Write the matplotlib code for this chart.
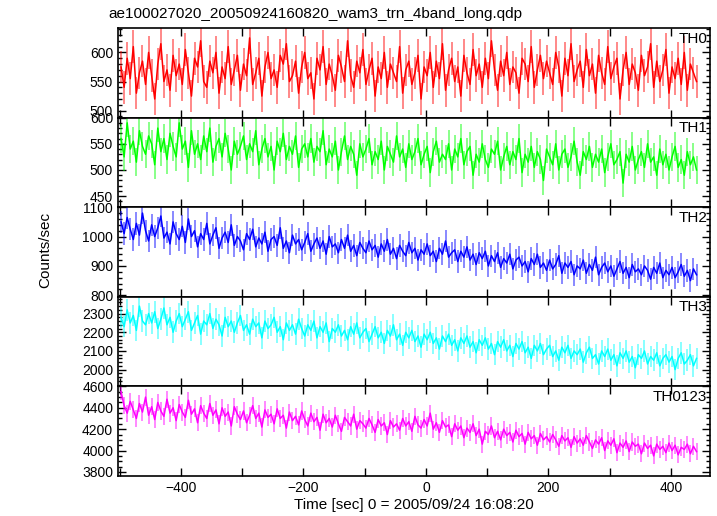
import numpy as np
import matplotlib
matplotlib.use("Agg")
import matplotlib.pyplot as plt
from matplotlib.ticker import MultipleLocator

plt.rcParams['font.family'] = ['Liberation Sans', 'DejaVu Sans']

t_start = -498
t_step = 5

th0 = [575, 540, 590, 555, 610, 530, 565, 585, 545, 600,
       560, 520, 580, 615, 550, 570, 535, 595, 560, 580,
       545, 605, 565, 525, 590, 575, 620, 550, 540, 585,
       565, 600, 530, 575, 555, 610, 545, 570, 595, 535,
       580, 560, 625, 545, 565, 590, 525, 575, 600, 555,
       570, 540, 595, 580, 615, 550, 560, 585, 530, 575,
       600, 555, 565, 520, 590, 570, 610, 545, 580, 560,
       535, 595, 575, 550, 620, 560, 540, 585, 565, 605,
       545, 570, 590, 525, 575, 555, 600, 540, 580, 565,
       550, 610, 530, 570, 585, 545, 565, 595, 520, 575,
       560, 600, 540, 585, 555, 615, 535, 570, 590, 550,
       575, 525, 595, 565, 545, 605, 560, 580, 540, 590,
       555, 620, 570, 535, 585, 560, 600, 545, 575, 565,
       530, 590, 580, 550, 610, 540, 570, 595, 555, 585,
       565, 545, 600, 575, 525, 590, 560, 615, 550, 570,
       585, 540, 605, 560, 580, 530, 595, 565, 545, 610,
       555, 575, 590, 520, 570, 600, 545, 580, 565, 535,
       595, 560, 575, 615, 540, 585, 550, 570, 605, 530,
       575, 555, 590, 545, 600, 535, 580, 565, 550]

th1 = [560, 525, 590, 540, 555, 515, 575, 545, 530, 565,
       550, 510, 580, 535, 560, 520, 570, 545, 525, 590,
       540, 555, 505, 575, 530, 550, 520, 565, 535, 580,
       515, 545, 560, 525, 570, 540, 500, 555, 530, 545,
       565, 520, 550, 535, 575, 510, 540, 560, 525, 545,
       500, 555, 535, 570, 520, 545, 530, 565, 505, 540,
       550, 525, 560, 515, 545, 535, 575, 510, 540, 525,
       555, 500, 535, 565, 520, 545, 530, 490, 550, 525,
       540, 560, 510, 535, 520, 555, 500, 545, 530, 515,
       565, 525, 540, 505, 550, 520, 535, 560, 510, 530,
       545, 495, 535, 555, 515, 530, 520, 550, 500, 540,
       525, 560, 510, 535, 545, 490, 530, 515, 550, 520,
       505, 540, 530, 555, 500, 525, 545, 510, 535, 520,
       560, 495, 530, 515, 545, 505, 535, 520, 480, 540,
       525, 510, 550, 500, 530, 540, 505, 525, 555, 515,
       490, 535, 520, 545, 505, 530, 515, 540, 495, 525,
       550, 510, 520, 535, 475, 530, 515, 545, 500, 520,
       535, 505, 550, 515, 525, 490, 540, 510, 530, 500,
       525, 545, 505, 520, 490, 535, 510, 525, 500]

th2 = [1050, 1010, 1065, 1025, 990, 1045, 1005, 1080, 1020, 985,
       1040, 1000, 1030, 1070, 995, 1015, 975, 1050, 1010, 990,
       1035, 980, 1060, 1000, 1020, 965, 1010, 990, 1045, 975,
       1005, 1030, 960, 995, 1015, 980, 1040, 970, 1000, 985,
       955, 1010, 990, 1025, 965, 995, 975, 1015, 950, 990,
       1000, 970, 1030, 960, 985, 945, 1005, 975, 990, 955,
       980, 1010, 950, 975, 995, 960, 985, 940, 1000, 965,
       975, 945, 990, 960, 1005, 950, 970, 935, 980, 960,
       945, 985, 955, 970, 930, 975, 950, 990, 940, 960,
       925, 970, 950, 935, 980, 945, 960, 920, 955, 940,
       975, 935, 950, 915, 960, 940, 985, 930, 945, 955,
       915, 950, 930, 965, 920, 940, 905, 945, 925, 950,
       900, 935, 915, 945, 895, 925, 910, 940, 890, 920,
       930, 900, 915, 880, 925, 905, 940, 895, 910, 885,
       920, 890, 905, 935, 875, 910, 895, 915, 870, 900,
       890, 920, 875, 905, 885, 930, 870, 895, 910, 880,
       900, 865, 890, 915, 875, 895, 860, 905, 880, 890,
       870, 900, 885, 855, 895, 875, 910, 860, 885, 870,
       895, 860, 880, 905, 865, 885, 850, 890, 870]

th3 = [2280, 2230, 2320, 2250, 2290, 2210, 2340, 2260, 2240, 2300,
       2250, 2310, 2220, 2270, 2330, 2240, 2280, 2200, 2260, 2300,
       2230, 2270, 2310, 2210, 2250, 2290, 2190, 2260, 2240, 2300,
       2220, 2270, 2240, 2180, 2280, 2230, 2260, 2200, 2250, 2290,
       2210, 2240, 2190, 2270, 2230, 2250, 2170, 2260, 2220, 2240,
       2280, 2200, 2230, 2160, 2250, 2210, 2240, 2190, 2270, 2220,
       2180, 2240, 2210, 2260, 2170, 2230, 2200, 2250, 2150, 2220,
       2200, 2240, 2180, 2210, 2160, 2230, 2190, 2250, 2170, 2200,
       2220, 2150, 2190, 2230, 2170, 2200, 2140, 2210, 2180, 2240,
       2160, 2190, 2130, 2200, 2170, 2210, 2150, 2180, 2120, 2190,
       2160, 2200, 2140, 2170, 2110, 2180, 2150, 2190, 2130, 2160,
       2100, 2170, 2140, 2180, 2120, 2150, 2090, 2160, 2130, 2170,
       2110, 2140, 2080, 2150, 2120, 2160, 2100, 2130, 2070, 2140,
       2110, 2150, 2090, 2120, 2060, 2130, 2100, 2140, 2080, 2110,
       2130, 2070, 2100, 2050, 2120, 2090, 2130, 2060, 2100, 2080,
       2110, 2040, 2090, 2120, 2060, 2080, 2030, 2100, 2070, 2110,
       2050, 2080, 2020, 2090, 2060, 2100, 2040, 2070, 2010, 2080,
       2060, 2100, 2030, 2070, 2050, 2090, 2020, 2060, 2080, 2040,
       2070, 2000, 2060, 2090, 2030, 2050, 2080, 2020, 2060]

th0123 = [4550, 4420, 4350, 4460, 4380, 4300, 4440, 4360, 4500, 4330,
          4410, 4290, 4450, 4370, 4320, 4480, 4350, 4400, 4280, 4430,
          4360, 4310, 4470, 4340, 4390, 4260, 4420, 4350, 4300, 4440,
          4330, 4380, 4250, 4400, 4320, 4360, 4230, 4410, 4340, 4290,
          4370, 4260, 4330, 4420, 4300, 4350, 4220, 4380, 4310, 4340,
          4250, 4390, 4300, 4330, 4210, 4360, 4280, 4320, 4240, 4370,
          4290, 4230, 4350, 4270, 4310, 4190, 4340, 4260, 4300, 4220,
          4330, 4250, 4180, 4310, 4270, 4230, 4340, 4200, 4280, 4250,
          4210, 4300, 4240, 4170, 4290, 4230, 4260, 4150, 4280, 4220,
          4250, 4190, 4300, 4230, 4270, 4180, 4320, 4240, 4210, 4290,
          4230, 4350, 4200, 4260, 4170, 4280, 4220, 4240, 4130, 4250,
          4190, 4230, 4120, 4210, 4170, 4250, 4140, 4200, 4060, 4180,
          4150, 4230, 4120, 4180, 4100, 4200, 4140, 4170, 4080, 4190,
          4130, 4160, 4060, 4170, 4110, 4140, 4050, 4160, 4100, 4130,
          4080, 4150, 4100, 4040, 4140, 4090, 4120, 4030, 4130, 4070,
          4110, 4050, 4140, 4080, 4020, 4100, 4060, 4120, 4000, 4090,
          4050, 4110, 3980, 4070, 4030, 4090, 3990, 4080, 4040, 4060,
          3970, 4070, 4020, 4050, 3950, 4060, 4010, 4040, 3980, 4070,
          4000, 4050, 3960, 4030, 4010, 4060, 3970, 4040, 3990]

series = [th0, th1, th2, th3, th0123]
errors = [28, 27, 38, 58, 80]
names = ["TH0", "TH1", "TH2", "TH3", "TH0123"]
colors = ["#ff0000", "#00ff00", "#0000ff", "#00ffff", "#ff00ff"]
ylims = [(488, 642), (429, 600), (795, 1100), (1910, 2390), (3762, 4600)]
ymajor = [50, 50, 100, 100, 200]
yminor = [10, 10, 20, 20, 50]
xlabels_ticks = [-400, -200, 0, 200, 400]

W, H = 717, 516
fig = plt.figure(figsize=(W / 100, H / 100), dpi=100)
left, right = 118 / W, 710 / W
top, bottom = 1 - 28 / H, 1 - 476 / H
ph = (top - bottom) / 5

axes = []
for i, (ys, err, name, c) in enumerate(zip(series, errors, names, colors)):
    ax = fig.add_axes([left, top - (i + 1) * ph, right - left, ph])
    t = t_start + t_step * np.arange(len(ys))
    ax.errorbar(t, ys, yerr=err, fmt='none', ecolor=c, elinewidth=1.3,
                alpha=0.5, capsize=0)
    ax.plot(t, ys, color=c, lw=1.1)
    ax.set_xlim(-503, 464)
    ax.set_ylim(*ylims[i])
    ax.yaxis.set_major_locator(MultipleLocator(ymajor[i]))
    ax.yaxis.set_minor_locator(MultipleLocator(yminor[i]))
    ax.xaxis.set_major_locator(MultipleLocator(200))
    ax.xaxis.set_minor_locator(MultipleLocator(100))
    ax.tick_params(which='both', direction='in', top=True, right=True,
                   labelsize=10, width=1, colors='black')
    ax.tick_params(which='major', length=6)
    ax.tick_params(which='minor', length=3)
    ax.tick_params(axis='x', which='minor', length=6)
    for s in ax.spines.values():
        s.set_linewidth(1.2)
    ax.text(0.995, 0.96, name, transform=ax.transAxes, ha='right', va='top',
            fontsize=11)
    if i < 4:
        ax.set_xticklabels([])
    axes.append(ax)

axes[-1].set_xticks(xlabels_ticks)
axes[-1].set_xticklabels([str(v).replace('-', '\u2212') for v in xlabels_ticks])
axes[-1].set_xlabel("Time [sec] 0 = 2005/09/24 16:08:20", fontsize=11, labelpad=2)
fig.text(45 / W, 1 - 250 / H, "Counts/sec", rotation=90, ha='center', va='center',
         fontsize=11)
fig.text(108 / W, 1 - 14 / H, "ae100027020_20050924160820_wam3_trn_4band_long.qdp",
         ha='left', va='center', fontsize=11)

fig.savefig("out.png", dpi=100)
